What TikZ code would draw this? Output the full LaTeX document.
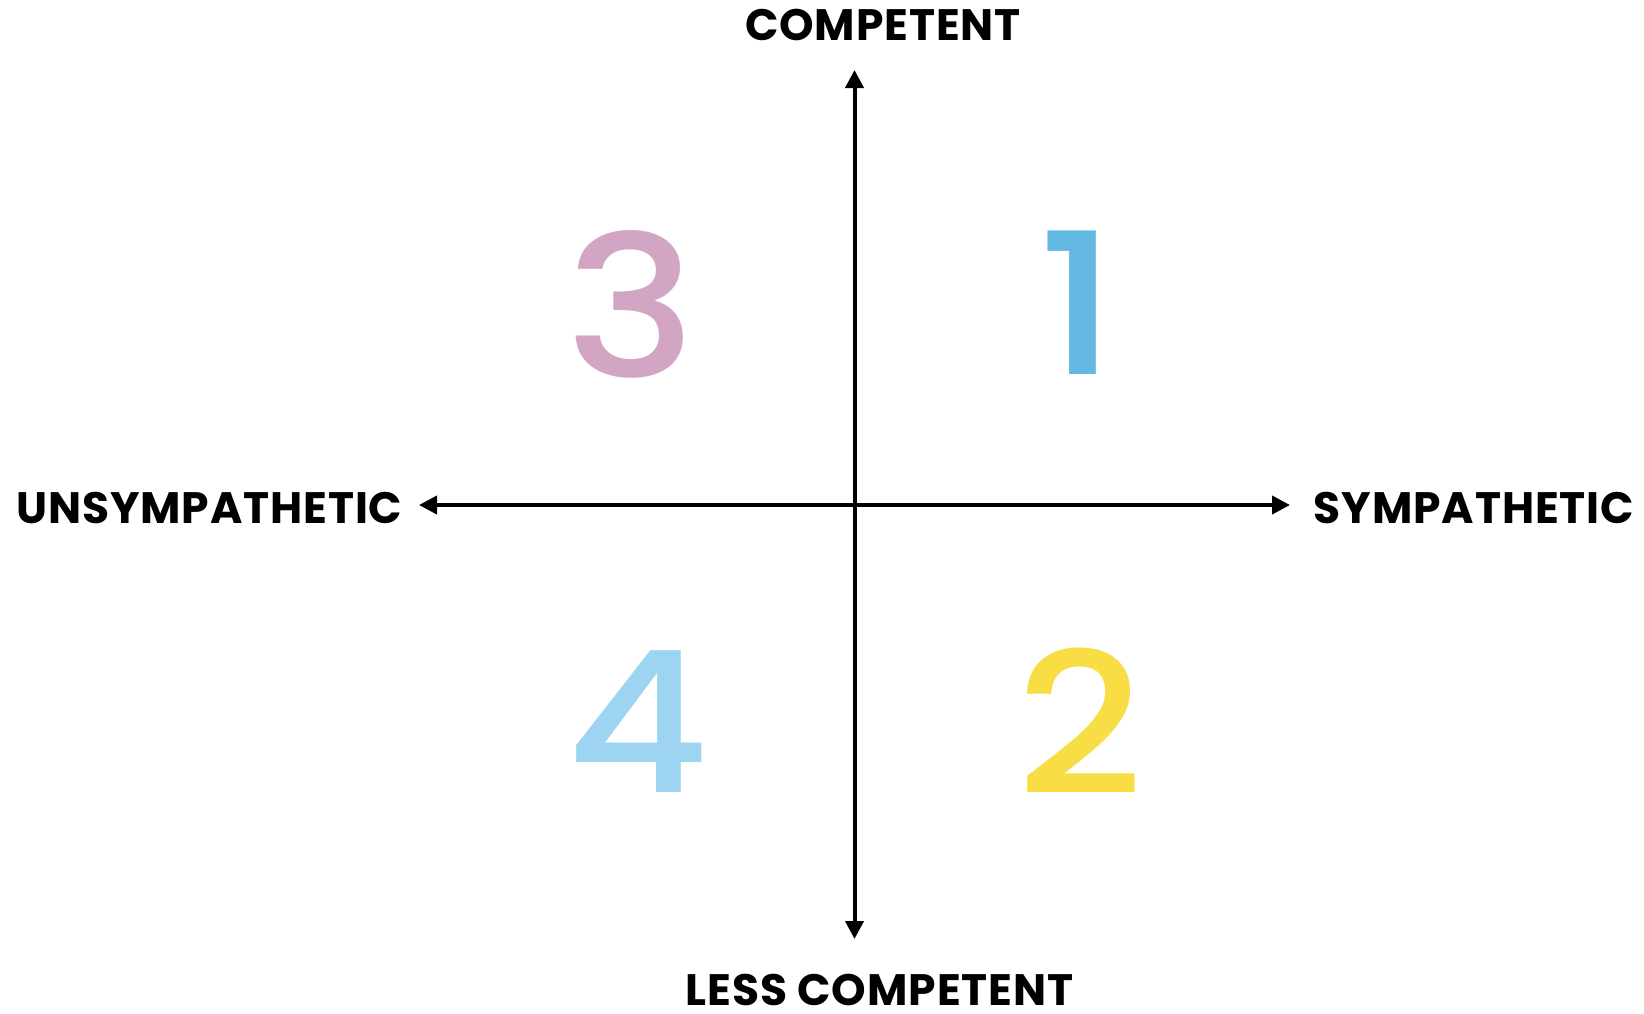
\documentclass[tikz,border=0pt]{standalone}
\usepackage{fontspec}
\setmainfont{Poppins}
\newfontfamily\numfont{Poppins Medium}
\usetikzlibrary{arrows.meta}

\definecolor{numpink}{HTML}{D2A5C4}
\definecolor{numblue}{HTML}{62B8E3}
\definecolor{numlightblue}{HTML}{9DD4F1}
\definecolor{numyellow}{HTML}{F8DD45}

\begin{document}
\begin{tikzpicture}[x=1pt,y=-1pt]
\tikzstyle{every node}+=[inner sep=0pt]
\tikzstyle{axislabel}=[font=\fontsize{44}{44}\selectfont\bfseries\addfontfeature{LetterSpace=2}]
\tikzstyle{quadnum}=[font=\fontsize{197}{197}\selectfont\numfont]
\tikzstyle{axis}=[line width=4pt, {Triangle[length=18pt,width=18pt]}-{Triangle[length=18pt,width=18pt]}]
\useasboundingbox (0,0) rectangle (1644,1013);
% axis ends
\coordinate (top) at (854.5,70);
\coordinate (bottom) at (854.5,939);
\coordinate (left) at (419,505);
\coordinate (right) at (1290,505);
\draw [axis] (bottom) -- (top);
\draw [axis] (left) -- (right);
% axis labels
\node [axislabel] (competent) at (883,24.5) {COMPETENT};
\node [axislabel] (lesscompetent) at (879.5,990) {LESS COMPETENT};
\node [axislabel] (unsympathetic) at (209.5,508) {UNSYMPATHETIC};
\node [axislabel] (sympathetic) at (1474,507.5) {SYMPATHETIC};
% quadrant numbers
\node [quadnum, text=numpink] (three) at (631.5,304) {\scalebox{1.12}[1]{3}};
\node [quadnum, text=numblue] (one) at (1078,303) {\scalebox{1.18}[1]{1}};
\node [quadnum, text=numlightblue] (four) at (638,722) {\scalebox{1.12}[1]{4}};
\node [quadnum, text=numyellow] (two) at (1080,721) {\scalebox{1.12}[1]{2}};
\end{tikzpicture}
\end{document}
